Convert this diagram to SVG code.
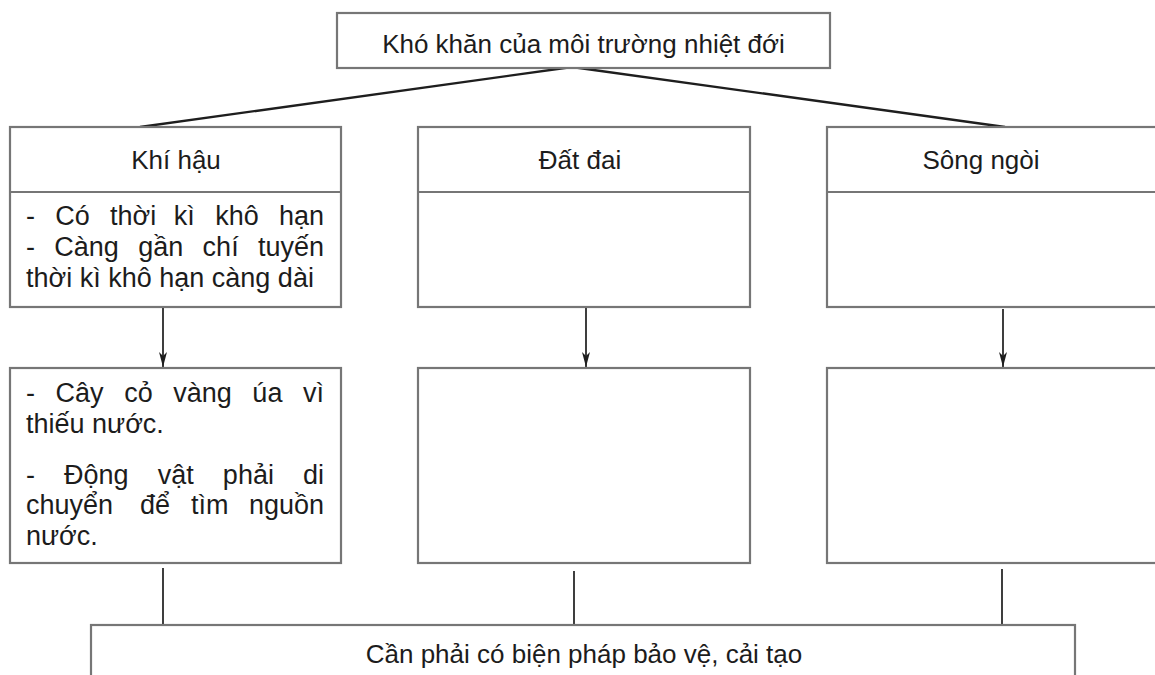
<svg xmlns="http://www.w3.org/2000/svg" width="1155" height="675" viewBox="0 0 1155 675">
  <style>
    .box { fill: #ffffff; stroke: #767676; stroke-width: 2.2; }
    .sep { stroke: #767676; stroke-width: 2.2; fill: none; }
    .con { stroke: #2a2a2a; stroke-width: 1.8; fill: none; }
    .slant { stroke: #1e1e1e; stroke-width: 2.4; fill: none; }
    .t { font-family: "Liberation Sans", Arial, sans-serif; font-size: 26px; fill: #1c1c1c; }
    .c { text-anchor: middle; }
    .b { font-size: 27px; }
  </style>
  <defs>
    <marker id="arr" markerUnits="userSpaceOnUse" markerWidth="16" markerHeight="10" refX="15" refY="5" orient="auto" viewBox="0 0 16 10">
      <path d="M0,1 L15,5 L0,9 L4,5 Z" fill="#1e1e1e"/>
    </marker>
  </defs>
  <rect width="1155" height="675" fill="#ffffff"/>

  <g id="connectors">
    <line class="slant" x1="572" y1="67" x2="140" y2="127"/>
    <line class="slant" x1="572" y1="67" x2="1005" y2="127"/>
    <line class="con" x1="163" y1="308" x2="163" y2="367" marker-end="url(#arr)"/>
    <line class="con" x1="586" y1="308" x2="586" y2="367" marker-end="url(#arr)"/>
    <line class="con" x1="1003" y1="309" x2="1003" y2="367" marker-end="url(#arr)"/>
    <line class="con" x1="163" y1="568" x2="163" y2="625"/>
    <line class="con" x1="574" y1="571" x2="574" y2="625"/>
    <line class="con" x1="1002" y1="569" x2="1002" y2="625"/>
  </g>

  <g id="node-top">
    <rect class="box" x="337" y="13" width="493" height="55"/>
    <text class="t c" x="583.5" y="53">Khó khăn của môi trường nhiệt đới</text>
  </g>

  <g id="node-khihau">
    <rect class="box" x="10" y="127" width="331" height="180"/>
    <line class="sep" x1="10" y1="192" x2="341" y2="192"/>
    <text class="t c" x="176" y="169">Khí hậu</text>
    <text class="t b" y="225"><tspan x="26">-</tspan><tspan x="55.27">Có</tspan><tspan x="110.06">thời</tspan><tspan x="173.86">kì</tspan><tspan x="215.15">khô</tspan><tspan x="278.95">hạn</tspan></text>
    <text class="t b" y="256"><tspan x="26">-</tspan><tspan x="54.34">Càng</tspan><tspan x="138.22">gần</tspan><tspan x="202.61">chí</tspan><tspan x="257.98">tuyến</tspan></text>
    <text class="t b" x="26" y="287">thời kì khô hạn càng dài</text>
  </g>

  <g id="node-khihau-effects">
    <rect class="box" x="10" y="368" width="331" height="195"/>
    <text class="t b" y="402"><tspan x="26">-</tspan><tspan x="55.57">Cây</tspan><tspan x="124.16">cỏ</tspan><tspan x="173.25">vàng</tspan><tspan x="252.37">úa</tspan><tspan x="302.97">vì</tspan></text>
    <text class="t b" x="26" y="433">thiếu nước.</text>
    <text class="t b" y="484"><tspan x="26">-</tspan><tspan x="64.1">Động</tspan><tspan x="157.74">vật</tspan><tspan x="222.87">phải</tspan><tspan x="303.01">di</tspan></text>
    <text class="t b" y="514"><tspan x="26">chuyển</tspan><tspan x="140">để</tspan><tspan x="191">tìm</tspan><tspan x="324" text-anchor="end">nguồn</tspan></text>
    <text class="t b" x="26" y="545">nước.</text>
  </g>

  <g id="node-datdai">
    <rect class="box" x="418" y="127" width="332" height="180"/>
    <line class="sep" x1="418" y1="192" x2="750" y2="192"/>
    <text class="t c" x="580" y="169">Đất đai</text>
  </g>

  <g id="node-datdai-effects">
    <rect class="box" x="418" y="368" width="332" height="195"/>
  </g>

  <g id="node-songngoi">
    <rect class="box" x="827" y="127" width="345" height="180"/>
    <line class="sep" x1="827" y1="192" x2="1172" y2="192"/>
    <text class="t c" x="981" y="169">Sông ngòi</text>
  </g>

  <g id="node-songngoi-effects">
    <rect class="box" x="827" y="368" width="345" height="195"/>
  </g>

  <g id="node-bottom">
    <rect class="box" x="91" y="625" width="984" height="70"/>
    <text class="t c" x="584" y="663">Cần phải có biện pháp bảo vệ, cải tạo</text>
  </g>
</svg>
